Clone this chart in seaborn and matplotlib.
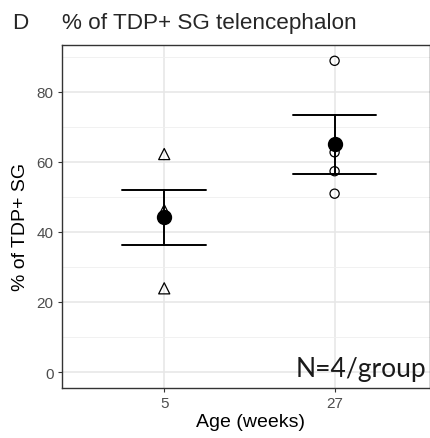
import matplotlib
matplotlib.use("Agg")
import matplotlib.pyplot as plt
import seaborn as sns
import pandas as pd
import numpy as np
from matplotlib.ticker import MultipleLocator

# ---- data ----
age_levels = ["5", "27"]
pct_5wk = [62.2, 46.2, 44.6, 23.9]
pct_27wk = [88.8, 62.7, 57.3, 50.9]
y_ticks = [0, 20, 40, 60, 80]

df = pd.DataFrame({
    "age": ["5"] * len(pct_5wk) + ["27"] * len(pct_27wk),
    "pct": pct_5wk + pct_27wk,
})

sns.set_style("ticks")
plt.rcParams["font.family"] = ["Liberation Sans", "DejaVu Sans"]

fig = plt.figure(figsize=(4.31, 4.39), dpi=100)
ax = fig.add_axes([62 / 431, (439 - 388.7) / 439, 368 / 431, 343.2 / 439])
ax.set_facecolor("white")

sns.stripplot(data=df[df.age == "5"], x="age", y="pct", order=age_levels,
              jitter=False, marker="^", size=8, facecolor="none",
              edgecolor="black", linewidth=0.9, ax=ax, zorder=3)
sns.stripplot(data=df[df.age == "27"], x="age", y="pct", order=age_levels,
              jitter=False, marker="o", size=6.6, facecolor="none",
              edgecolor="black", linewidth=0.9, ax=ax, zorder=3)
sns.pointplot(data=df, x="age", y="pct", order=age_levels, errorbar="se",
              capsize=0.49, color="black", linestyle="none", markersize=9,
              err_kws={"linewidth": 1.4}, ax=ax, zorder=4)

ax.set_xlim(-0.6, 1.56)
ax.set_ylim(-4.45, 93.45)
ax.set_yticks(y_ticks)
ax.yaxis.set_minor_locator(MultipleLocator(10))
ax.grid(which="major", color="#E6E6E6", linewidth=1.1, zorder=0)
ax.grid(which="minor", axis="y", color="#EFEFEF", linewidth=0.6, zorder=0)
ax.set_axisbelow(True)
ax.tick_params(which="minor", length=0)
ax.tick_params(which="major", length=3, width=0.8, color="#333333",
               labelcolor="#4D4D4D", labelsize=11, pad=3.2)
for s in ax.spines.values():
    s.set_visible(True)
    s.set_color("#333333")
    s.set_linewidth(1.0)

ax.set_xlabel("Age (weeks)", fontsize=14, color="black")
ax.set_ylabel("% of TDP+ SG", fontsize=14, color="black")
ax.xaxis.set_label_coords(0.511, -0.075)
ax.yaxis.set_label_coords(-0.09, 0.47)

ax.text(0.99, 0.035, "N=4/group", transform=ax.transAxes, ha="right",
        va="baseline", fontsize=19, family=["Lato", "DejaVu Sans"],
        color="#1a1a1a")

fig.text(62 / 431, 1 - 29 / 439, "% of TDP+ SG telencephalon", fontsize=16.2,
         va="baseline", ha="left")
fig.text(12 / 431, 1 - 29 / 439, "D", fontsize=16.2, va="baseline", ha="left")

fig.savefig("out.png", dpi=100)
